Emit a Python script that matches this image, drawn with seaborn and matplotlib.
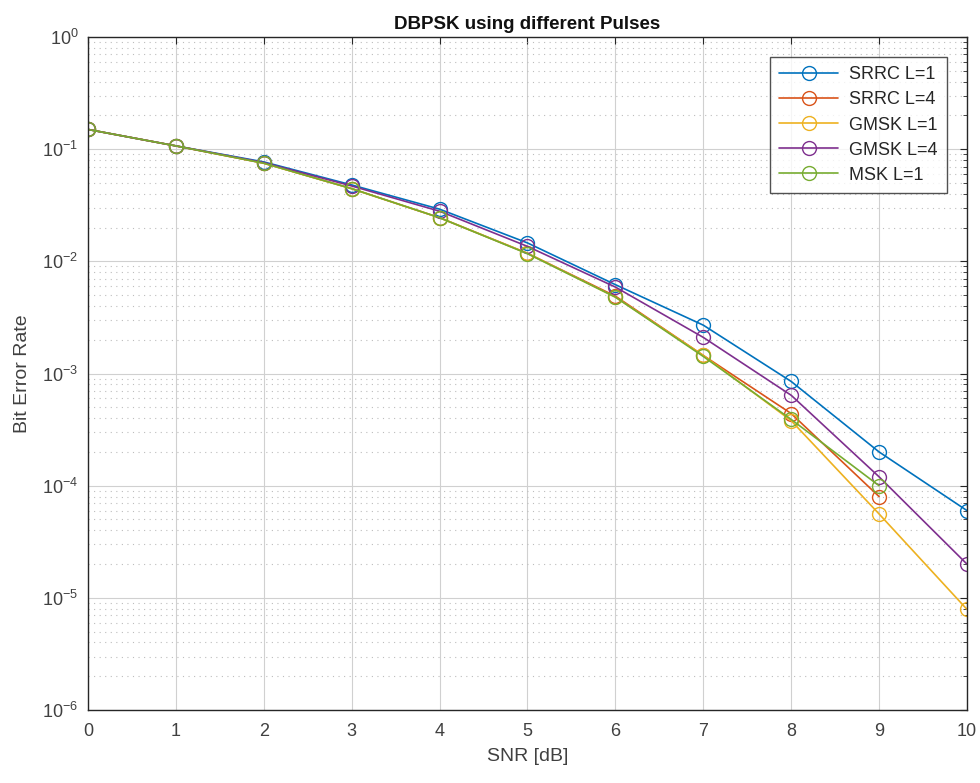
import numpy as np
import pandas as pd
import matplotlib
matplotlib.use("Agg")
import matplotlib.pyplot as plt
import seaborn as sns
from matplotlib.ticker import LogLocator, FixedLocator, NullFormatter

# SNR values and bit error rate per pulse shape
snr = [0, 1, 2, 3, 4, 5, 6, 7, 8, 9, 10]
ber_srrc_l1 = [0.150, 0.107, 0.077, 0.048, 0.0292, 0.0146, 0.0062, 0.0027, 8.5e-4, 2.0e-4, 6.0e-5]
ber_srrc_l4 = [0.150, 0.107, 0.075, 0.0445, 0.0245, 0.0118, 0.0049, 0.00145, 4.4e-4, 8.0e-5, np.nan]
ber_gmsk_l1 = [0.150, 0.107, 0.075, 0.0445, 0.0245, 0.0118, 0.0048, 0.00145, 3.8e-4, 5.6e-5, 7.9e-6]
ber_gmsk_l4 = [0.150, 0.107, 0.076, 0.047, 0.0280, 0.0136, 0.0059, 0.0021, 6.4e-4, 1.2e-4, 2.0e-5]
ber_msk_l1 = [0.150, 0.107, 0.075, 0.0445, 0.0245, 0.0117, 0.0048, 0.00142, 3.9e-4, 1.0e-4, np.nan]

labels = ["SRRC L=1", "SRRC L=4", "GMSK L=1", "GMSK L=4", "MSK L=1"]
colors = ["#0072BD", "#D95319", "#EDB120", "#7E2F8E", "#77AC30"]
series = [ber_srrc_l1, ber_srrc_l4, ber_gmsk_l1, ber_gmsk_l4, ber_msk_l1]

sns.set_style("white")
plt.rcParams["font.family"] = ["Liberation Sans", "DejaVu Sans"]

fig = plt.figure(figsize=(9.8, 7.83), dpi=100)
ax = fig.add_axes([0.0898, 0.0932, 0.8969, 0.8595])

for lab, col, vals in zip(labels, colors, series):
    df = pd.DataFrame({"snr": snr, "ber": vals}).dropna()
    sns.lineplot(data=df, x="snr", y="ber", ax=ax, color=col, label=lab,
                 marker="o", markersize=10, markerfacecolor="none",
                 markeredgecolor=col, markeredgewidth=1.0, linewidth=1.2)

ax.set_yscale("log")
ax.set_xlim(0, 10)
ax.set_ylim(1e-6, 1)
ax.set_xticks(range(0, 11))
ax.yaxis.set_major_locator(FixedLocator([10.0 ** k for k in range(-6, 1)]))
ax.yaxis.set_minor_locator(LogLocator(base=10, subs=np.arange(2, 10), numticks=20))
ax.yaxis.set_minor_formatter(NullFormatter())

ax.grid(True, which="major", axis="both", color="#d0d0d0", linewidth=0.8, linestyle="-")
ax.grid(True, which="minor", axis="y", color="#bdbdbd", linewidth=0.8, linestyle=(0, (1, 4)))

ax.tick_params(which="both", direction="in", top=True, right=True,
               colors="#262626", labelcolor="#404040")
ax.tick_params(which="major", length=5, labelsize=13)
ax.tick_params(axis="x", which="major", pad=9)
ax.tick_params(axis="y", which="major", pad=7)
ax.tick_params(which="minor", length=3)
for sp in ax.spines.values():
    sp.set_color("#262626")
    sp.set_linewidth(1.0)

ax.set_xlabel("SNR [dB]", fontsize=14, color="#404040", labelpad=6)
ax.set_ylabel("Bit Error Rate", fontsize=14, color="#404040", labelpad=8)
ax.set_title("DBPSK using different Pulses", fontsize=13.5, fontweight="bold", color="#111111", pad=6)

leg = ax.legend(loc="upper right", bbox_to_anchor=(0.977, 0.97), borderaxespad=0,
                fontsize=13, frameon=True, fancybox=False, edgecolor="#262626",
                handlelength=3.3, handletextpad=0.6, borderpad=0.5, labelspacing=0.45)
leg.get_frame().set_linewidth(1.0)

fig.savefig("out.png", dpi=100)
